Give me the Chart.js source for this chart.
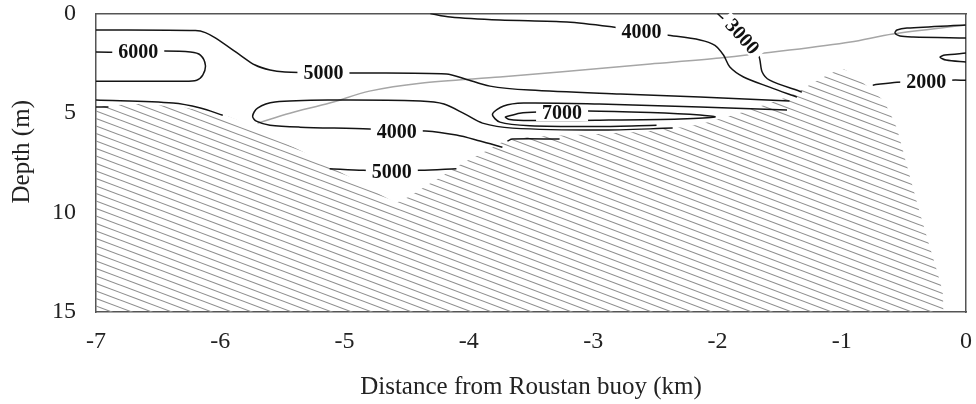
<!DOCTYPE html>
<html>
<head>
<meta charset="utf-8">
<script src="https://cdn.jsdelivr.net/npm/chart.js@4.4.1/dist/chart.umd.min.js"></script>
<style>
  html, body { margin: 0; padding: 0; background: #fff; }
  #wrap { width: 976px; height: 404px; }
</style>
</head>
<body>
<div id="wrap"><canvas id="section"></canvas></div>
<script>
// Axis ticks
const distanceTicks = [-7, -6, -5, -4, -3, -2, -1, 0];
const depthTicks = [0, 5, 10, 15];

// Contour lines, each point is [distance (km), depth (m)]
const iso4000Top = [[-4.31, 0], [-4.15, 0.18], [-3.75, 0.33], [-3.21, 0.43], [-2.84, 0.68], [-2.61, 0.9],
  [-2.41, 1.08], [-2.14, 1.33], [-2.02, 1.6], [-1.95, 2.1], [-1.9, 2.69], [-1.79, 3.19], [-1.58, 3.7], [-1.36, 4.2]];
const iso3000 = [[-2.0, 0], [-1.8, 1.16], [-1.67, 2.09], [-1.64, 2.94], [-1.58, 3.35], [-1.32, 3.95]];
const iso5000Upper = [[-7.0, 0.83], [-6.2, 0.86], [-6.12, 0.96], [-6.04, 1.23], [-5.84, 2.09], [-5.72, 2.59],
  [-5.6, 2.84], [-5.48, 2.94], [-5.2, 2.99], [-4.94, 2.99], [-4.18, 3.04], [-4.03, 3.29], [-3.83, 3.65],
  [-3.51, 3.85], [-2.78, 4.05], [-2.14, 4.2], [-1.42, 4.4]];
const iso6000Left = [[-7.0, 1.94], [-6.66, 1.94], [-6.45, 1.89], [-6.24, 1.94], [-6.16, 2.09], [-6.12, 2.59],
  [-6.14, 3.09], [-6.19, 3.35], [-6.3, 3.4], [-7.0, 3.4]];
const isoLeftLower = [[-7.0, 4.35], [-6.38, 4.5], [-6.16, 4.75], [-5.98, 5.11]];
const isoLeftStub = [[-7.0, 4.7], [-6.9, 4.7]];
const iso4000Mid = [[-3.73, 6.72], [-3.91, 6.41], [-4.1, 6.11], [-4.35, 5.9], [-4.58, 5.9], [-4.8, 5.8],
  [-5.36, 5.71], [-5.6, 5.61], [-5.71, 5.41], [-5.74, 5.16], [-5.7, 4.75], [-5.56, 4.45], [-5.12, 4.35],
  [-4.39, 4.4], [-4.2, 4.55], [-4.03, 5.06], [-3.89, 5.51], [-3.65, 5.76], [-2.95, 5.86], [-2.36, 5.76]];
const iso5000Lower = [[-5.12, 7.8], [-4.85, 7.88], [-4.62, 7.9], [-4.39, 7.88], [-4.1, 7.8]];
const iso6000Core = [[-1.44, 4.85], [-2.14, 4.7], [-2.95, 4.55], [-3.56, 4.5], [-3.72, 4.65], [-3.81, 5.06],
  [-3.75, 5.46], [-3.51, 5.64], [-2.95, 5.68], [-2.49, 5.62]];
const iso7000 = [[-3.71, 5.21], [-3.59, 5.01], [-3.43, 4.95], [-3.25, 4.95], [-3.04, 4.9], [-2.54, 4.98],
  [-2.14, 5.1], [-2.02, 5.2], [-2.3, 5.3], [-2.95, 5.36], [-3.51, 5.38], [-3.67, 5.33], [-3.71, 5.21]];
const isoStubDeep = [[-3.69, 6.41], [-3.65, 6.31], [-3.27, 6.31]];
const isoRightUpper = [[0, 0.58], [-0.475, 0.73], [-0.555, 0.83], [-0.571, 0.98], [-0.531, 1.13], [-0.426, 1.18], [0, 1.23]];
const isoRightLower = [[0, 1.99], [-0.169, 2.09], [-0.209, 2.19], [-0.161, 2.34], [0, 2.44]];
const iso2000 = [[-0.75, 3.6], [-0.555, 3.45], [-0.32, 3.42], [-0.129, 3.35], [0, 3.35]];

// Ship track (grey)
const track = [[-5.7, 5.51], [-5.44, 5.01], [-5.12, 4.5], [-4.8, 3.9], [-4.39, 3.5], [-3.75, 3.19],
  [-3.27, 2.94], [-2.54, 2.54], [-1.98, 2.24], [-1.42, 1.84], [-0.93, 1.43], [-0.59, 1.03], [0, 0.58]];

// Sea floor outline, hatched down to 15 m
const seabed = [[-7.0, 4.7], [-6.69, 4.55], [-6.32, 4.7], [-5.92, 5.21], [-5.36, 6.87], [-4.88, 8.48],
  [-4.58, 9.48], [-4.31, 8.53], [-4.05, 7.52], [-3.85, 6.87], [-3.71, 6.41], [-3.51, 6.21], [-2.95, 6.06],
  [-2.54, 5.91], [-2.14, 5.56], [-1.74, 4.85], [-1.42, 4.15], [-1.22, 3.45], [-0.99, 2.79], [-0.67, 4.35],
  [-0.56, 5.71], [-0.48, 7.52], [-0.37, 10.03], [-0.29, 11.75], [-0.19, 13.91], [-0.18, 15.0]];

// Contour value labels
const contourLabels = [
  { text: '6000', x: -6.66, y: 1.94, angle: 0 },
  { text: '5000', x: -5.17, y: 2.99, angle: 0 },
  { text: '4000', x: -2.61, y: 0.93, angle: 0 },
  { text: '3000', x: -1.8, y: 1.16, angle: 48 },
  { text: '7000', x: -3.25, y: 5.01, angle: 0 },
  { text: '4000', x: -4.58, y: 5.96, angle: 0 },
  { text: '5000', x: -4.62, y: 7.97, angle: 0 },
  { text: '2000', x: -0.32, y: 3.45, angle: 0 },
];

const serif = '"Liberation Serif", "Times New Roman", serif';

// diagonal hatch for the sea floor
function hatchPattern(ctx) {
  const tile = document.createElement('canvas');
  tile.width = 40;
  tile.height = 15;
  const t = tile.getContext('2d');
  t.strokeStyle = '#8e8e8e';
  t.lineWidth = 1.1;
  for (let k = -4; k <= 4; k++) {
    const y0 = k * 7.5;
    t.beginPath();
    t.moveTo(-2, y0 - 0.75);
    t.lineTo(42, y0 + 15.75);
    t.stroke();
  }
  return ctx.createPattern(tile, 'repeat');
}

const contour = (pts) => ({
  data: pts,
  showLine: true,
  borderColor: '#141414',
  borderWidth: 1.5,
  pointRadius: 0,
  tension: 0.3,
  fill: false,
  order: 1,
});

// numbers sitting on the contours, with a white gap cut in the line
const contourLabelPlugin = {
  id: 'contourLabels',
  afterDatasetsDraw(chart) {
    const { ctx, scales: { x, y } } = chart;
    ctx.save();
    ctx.font = 'bold 20px ' + serif;
    ctx.textAlign = 'center';
    ctx.textBaseline = 'middle';
    contourLabels.forEach((l) => {
      const w = ctx.measureText(l.text).width;
      ctx.save();
      ctx.translate(x.getPixelForValue(l.x), y.getPixelForValue(l.y));
      ctx.rotate(l.angle * Math.PI / 180);
      ctx.fillStyle = '#fff';
      ctx.fillRect(-w / 2 - 6, -8, w + 12, 16);
      ctx.fillStyle = '#111';
      ctx.fillText(l.text, 0, 1);
      ctx.restore();
    });
    ctx.restore();
  },
};

// y title sits a little above the middle of the axis
const depthTitlePlugin = {
  id: 'depthTitle',
  afterDraw(chart) {
    const { ctx, chartArea } = chart;
    ctx.save();
    ctx.translate(22, (chartArea.top + chartArea.bottom) / 2 - 11);
    ctx.rotate(-Math.PI / 2);
    ctx.font = '25px ' + serif;
    ctx.fillStyle = '#222';
    ctx.textAlign = 'center';
    ctx.textBaseline = 'middle';
    ctx.fillText('Depth (m)', 0, 0);
    ctx.restore();
  },
};

const noPad = (s) => { s.paddingTop = 0; s.paddingBottom = 0; s.paddingLeft = 0; s.paddingRight = 0; };

const canvas = document.getElementById('section');
const sectionChart = canvas.getContext('2d');

const lines = [iso4000Top, iso3000, iso5000Upper, iso6000Left, isoLeftLower, isoLeftStub, iso4000Mid,
  iso5000Lower, iso6000Core, iso7000, isoStubDeep, isoRightUpper, isoRightLower, iso2000].map(contour);

const config = {
  type: 'scatter',
  data: {
    datasets: [
      ...lines,
      {
        data: track,
        showLine: true,
        borderColor: '#a6a6a6',
        borderWidth: 1.5,
        pointRadius: 0,
        tension: 0.3,
        fill: false,
        order: 2,
      },
      {
        data: seabed,
        showLine: true,
        borderWidth: 0,
        pointRadius: 0,
        tension: 0.15,
        backgroundColor: hatchPattern(sectionChart),
        fill: { value: 15 },
        order: 10,
      },
    ],
  },
  options: {
    responsive: true,
    maintainAspectRatio: false,
    animation: false,
    events: [],
    layout: { padding: { top: 13.5, right: 10, left: 0, bottom: 0 } },
    plugins: { legend: { display: false }, tooltip: { enabled: false } },
    scales: {
      x: {
        type: 'linear',
        position: 'bottom',
        min: -7,
        max: 0,
        afterBuildTicks: (s) => { s.ticks = distanceTicks.map((v) => ({ value: v })); },
        afterFit: (s) => { s.height = 92; noPad(s); },
        grid: { display: false },
        border: { color: '#555', width: 1.5 },
        ticks: { color: '#222', font: { family: serif, size: 24 }, padding: 7, maxRotation: 0 },
        title: {
          display: true,
          text: 'Distance from Roustan buoy (km)',
          color: '#222',
          font: { family: serif, size: 25 },
          padding: { top: 0, bottom: 2 },
        },
      },
      y: {
        type: 'linear',
        position: 'left',
        reverse: true,
        min: 0,
        max: 15,
        afterBuildTicks: (s) => { s.ticks = depthTicks.map((v) => ({ value: v })); },
        afterFit: (s) => { s.width = 96; noPad(s); },
        grid: { display: false },
        border: { color: '#555', width: 1.5 },
        ticks: { color: '#222', font: { family: serif, size: 24 }, padding: 12 },
      },
      xTop: {
        type: 'linear',
        position: 'top',
        min: -7,
        max: 0,
        afterFit: (s) => { s.height = 0; noPad(s); },
        grid: { display: false },
        ticks: { display: false },
        border: { color: '#555', width: 1.5 },
      },
      yRight: {
        type: 'linear',
        position: 'right',
        min: 0,
        max: 15,
        afterFit: (s) => { s.width = 0; noPad(s); },
        grid: { display: false },
        ticks: { display: false },
        border: { color: '#555', width: 1.5 },
      },
    },
  },
  plugins: [contourLabelPlugin, depthTitlePlugin],
};

const myChart = new Chart(sectionChart, config);
</script>
</body>
</html>
